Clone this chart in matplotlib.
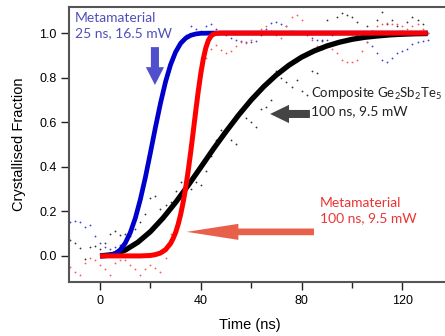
import matplotlib
matplotlib.use("Agg")
import matplotlib.pyplot as plt
from matplotlib.patches import FancyArrow

plt.rcParams['mathtext.fontset'] = 'custom'
plt.rcParams['mathtext.rm'] = 'Lato'
plt.rcParams['mathtext.it'] = 'Lato'

# ---- fitted curves ----
blue_t = [0, 2, 4, 6, 8, 10, 12, 14, 16, 18, 20, 22, 24, 26, 28, 30, 32, 34, 36, 38, 40, 45, 50, 60, 80, 100, 130]
blue_y = [0, 0.0, 0.003, 0.010, 0.027, 0.057, 0.104, 0.169, 0.253, 0.352, 0.463, 0.577, 0.685, 0.781,
          0.858, 0.915, 0.954, 0.977, 0.990, 0.996, 0.999, 1.0, 1.0, 1.0, 1.0, 1.0, 1.0]

red_t = [0, 10, 16, 18, 20, 22, 24, 26, 28, 29, 30, 31, 32, 33, 34, 35, 36, 37, 38, 39, 40, 41, 42, 43,
         44, 45, 46, 48, 50, 60, 80, 100, 130]
red_y = [0, 0, 0, 0.001, 0.002, 0.006, 0.013, 0.028, 0.056, 0.078, 0.105, 0.141, 0.186, 0.241, 0.306,
         0.382, 0.467, 0.558, 0.651, 0.740, 0.819, 0.885, 0.934, 0.967, 0.986, 0.995, 0.998, 1.0, 1.0,
         1.0, 1.0, 1.0, 1.0]

black_t = [0, 5, 10, 15, 20, 25, 30, 35, 40, 45, 50, 55, 60, 65, 70, 75, 80, 85, 90, 95, 100, 105, 110,
           115, 120, 125, 130]
black_y = [0, 0.006, 0.026, 0.061, 0.109, 0.170, 0.240, 0.317, 0.398, 0.480, 0.558, 0.632, 0.700, 0.760,
           0.812, 0.856, 0.892, 0.920, 0.942, 0.959, 0.972, 0.981, 0.987, 0.992, 0.995, 0.997, 0.998]

# ---- measured (noisy) data points ----
dot_t = list(range(-12, 131, 2))
blue_dots = [0.15, 0.155, 0.15, 0.13, 0.14, 0.09, 0.06, 0.04, 0.03, 0.04, 0.05, 0.06, 0.10, 0.17, 0.26,
             0.35, 0.46, 0.58, 0.69, 0.78, 0.86, 0.92, 0.97, 0.99, 1.03, 1.02, 1.01, 1.03, 1.04, 1.02,
             1.0, 0.99, 0.98, 0.97, 0.965, 0.96, 0.96, 0.965, 0.99, 1.02, 1.045, 1.05, 1.04, 1.03, 1.01,
             1.0, 1.0, 0.99, 0.98, 0.97, 0.965, 0.97, 0.99, 1.0, 1.005, 1.0, 0.995, 0.99, 0.98, 0.96,
             0.94, 0.91, 0.88, 0.87, 0.89, 0.91, 0.92, 0.93, 0.95, 0.96, 0.965, 0.97]
red_dots = [-0.05, -0.07, -0.085, -0.03, -0.01, -0.02, -0.04, -0.06, -0.085, -0.03, -0.02, -0.02, -0.04,
            -0.06, -0.085, -0.06, -0.04, -0.055, -0.07, -0.01, 0.10, 0.11, 0.19, 0.31, 0.47, 0.65, 0.82,
            0.89, 0.93, 0.945, 0.925, 0.91, 0.92, 0.94, 0.96, 0.955, 0.97, 1.0, 1.02, 1.03, 1.01, 0.99,
            0.98, 1.03, 1.07, 1.08, 1.06, 1.0, 0.97, 0.94, 0.93, 0.95, 0.93, 0.91, 0.88, 0.87, 0.87,
            0.88, 0.92, 0.96, 1.0, 1.03, 1.04, 1.045, 1.04, 1.04, 1.03, 1.02, 1.03, 1.04, 1.02, 1.0]
black_dots = [0.07, 0.06, 0.035, -0.015, 0.04, 0.045, 0.03, 0.06, 0.10, 0.11, 0.095, 0.10, 0.09, 0.12,
              0.15, 0.19, 0.26, 0.27, 0.21, 0.23, 0.24, 0.29, 0.33, 0.31, 0.30, 0.33, 0.32, 0.38, 0.45,
              0.52, 0.565, 0.55, 0.52, 0.50, 0.64, 0.62, 0.60, 0.58, 0.66, 0.67, 0.70, 0.83, 0.80, 0.78,
              0.76, 0.79, 0.74, 0.72, 0.83, 0.82, 0.97, 1.06, 1.0, 1.07, 1.09, 1.08, 1.07, 1.05, 0.99,
              1.03, 1.01, 1.06, 1.095, 1.04, 1.06, 1.03, 1.01, 1.05, 1.07, 1.06, 1.04, 1.0]

x_ticks = [0, 40, 80, 120]
x_minor = [20, 60, 100]
y_ticks = [0.0, 0.2, 0.4, 0.6, 0.8, 1.0]

fig = plt.figure(figsize=(4.45, 3.36), dpi=100)
ax = fig.add_axes([69 / 445, 54 / 336, 375 / 445, 275 / 336])

ax.plot(dot_t, black_dots, 'o', ms=1.3, mec='none', mfc='#333333')
ax.plot(dot_t, blue_dots, 'o', ms=1.3, mec='none', mfc='#3344dd')
ax.plot(dot_t, red_dots, 'o', ms=1.3, mec='none', mfc='#ff5555')

ax.plot(black_t, black_y, color='black', lw=3.8, solid_capstyle='butt')
ax.plot(blue_t, blue_y, color='#0000cc', lw=3.4, solid_capstyle='butt')
ax.plot(red_t, red_y, color='#ff0000', lw=3.6, solid_capstyle='butt')

ax.set_xlim(-12.3, 136.5)
ax.set_ylim(-0.117, 1.117)
ax.set_xticks(x_ticks)
ax.set_xticks(x_minor, minor=True)
ax.set_yticks(y_ticks)
ax.set_yticklabels([f"{v:.1f}" for v in y_ticks])

for s in ax.spines.values():
    s.set_color('#555555')
    s.set_linewidth(1.5)
ax.spines['right'].set_visible(False)
ax.tick_params(axis='both', which='major', length=6, width=1.0, color='#222222',
               labelsize=9, pad=3)
ax.tick_params(axis='x', which='minor', length=4, width=1.0, color='#222222')
for lab in ax.get_xticklabels() + ax.get_yticklabels():
    lab.set_family('Liberation Sans')

ax.set_xlabel('Time (ns)', fontsize=10.5, family='Liberation Sans')
ax.set_ylabel('Crystallised Fraction', fontsize=10.5, family='Liberation Sans')
ax.xaxis.set_label_coords((250 - 69) / 375, -0.13)
ax.yaxis.set_label_coords(-0.115, 0.5)

fam = ['Lato', 'DejaVu Sans']
fs = 10
ax.text(-10.0, 1.095, 'Metamaterial\n25 ns, 16.5 mW', color='#5050bb', fontsize=fs,
        family=fam, va='top', ha='left', linespacing=1.3)
ax.text(83.6, 0.765, 'Composite Ge$_\\mathrm{2}$Sb$_\\mathrm{2}$Te$_\\mathrm{5}$', color='#222222',
        fontsize=9.5, family=fam, va='top', ha='left')
ax.text(83.6, 0.675, '100 ns, 9.5 mW', color='#222222',
        fontsize=fs, family=fam, va='top', ha='left')
ax.text(87.3, 0.265, 'Metamaterial\n100 ns, 9.5 mW', color='#ee3333', fontsize=fs,
        family=fam, va='top', ha='left', linespacing=1.3)

# arrows
ax.add_patch(FancyArrow(21.8, 0.937, 0, -0.17, width=3.2, head_width=7.2, head_length=0.08,
                        length_includes_head=True, color='#5050cc', lw=0))
ax.add_patch(FancyArrow(83.3, 0.637, -15.8, 0, width=0.036, head_width=0.082, head_length=7.5,
                        length_includes_head=True, color='#444444', lw=0))
ax.add_patch(FancyArrow(84.9, 0.108, -50.5, 0, width=0.03, head_width=0.072, head_length=20.5,
                        length_includes_head=True, color='#e8604a', lw=0))

fig.savefig('out.png', dpi=100)
